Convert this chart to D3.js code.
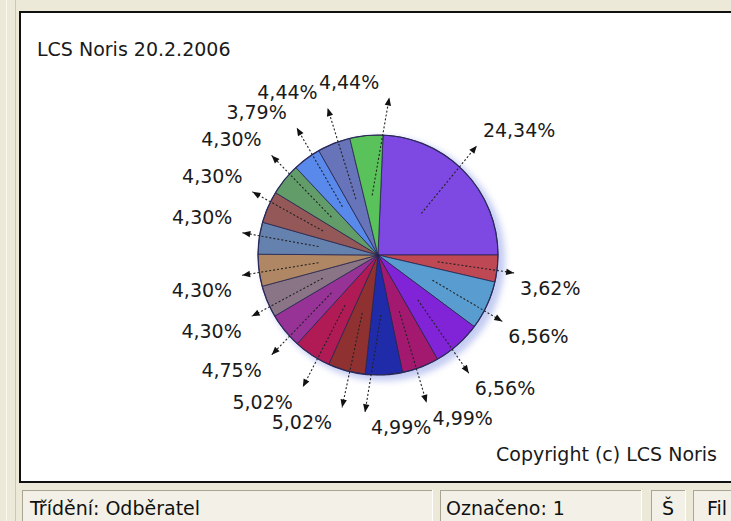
<!DOCTYPE html>
<html><head><meta charset="utf-8">
<script src="https://cdn.jsdelivr.net/npm/d3@7"></script>
<style>
html,body{margin:0;padding:0;background:#ece9d8;overflow:hidden}
svg{display:block;font-family:"DejaVu Sans",Verdana,sans-serif}
</style>
</head><body>
<svg id="c" width="731" height="521"></svg>
<script>
// ---- data ----
const chartTitle = "LCS Noris 20.2.2006";
const copyrightText = "Copyright (c) LCS Noris";
const shares = [24.34, 3.62, 6.56, 6.56, 4.99, 4.99, 5.02, 5.02, 4.75, 4.30, 4.30, 4.30, 4.30, 4.30, 3.79, 4.44, 4.44];
const sliceColors = ["#6220dc", "#b0202e", "#3486c4", "#9028f0", "#b41c7c", "#2430bc", "#a03636", "#c41e60",
                     "#a838a8", "#9a8296", "#c49670", "#7090c2", "#a66262", "#3e8648", "#3470e6", "#4656aa", "#36b436"];
const statusTexts = ["Třídění: Odběratel", "Označeno: 1", "Š", "Fil"];

// ---- layout ----
const W = 731, H = 521;
const cx = 378, cy = 255, R = 120;
const startOffset = 2.4 * Math.PI / 180;
const svg = d3.select("#c");
const defs = svg.append("defs");

svg.append("rect").attr("width", W).attr("height", H).attr("fill", "#ece9d8");
svg.append("line").attr("x1", 6.5).attr("x2", 6.5).attr("y1", 0).attr("y2", H).attr("stroke", "#faf8f0");
svg.append("line").attr("x1", 15.5).attr("x2", 15.5).attr("y1", 0).attr("y2", H).attr("stroke", "#cbc7b3");

// chart panel
svg.append("rect").attr("x", 20).attr("y", 12).attr("width", 730).attr("height", 470)
  .attr("fill", "#ffffff").attr("stroke", "#111").attr("stroke-width", 2);

svg.append("text").attr("x", 37).attr("y", 56).attr("font-size", 19).attr("fill", "#1a1a1a").text(chartTitle);
svg.append("text").attr("x", 717).attr("y", 461).attr("font-size", 19).attr("fill", "#1a1a1a")
  .attr("text-anchor", "end").text(copyrightText);

// status bar
const panels = [[22, 433], [440, 642], [651, 686], [693, 760]];
const statusX = [30, 446, 662, 707];
panels.forEach((p, i) => {
  svg.append("rect").attr("x", p[0]).attr("y", 490).attr("width", p[1] - p[0]).attr("height", 40).attr("fill", "#f3f1e7");
  svg.append("line").attr("x1", p[0]).attr("x2", p[1]).attr("y1", 490.5).attr("y2", 490.5).attr("stroke", "#a9a592");
  svg.append("line").attr("x1", p[0] + 0.5).attr("x2", p[0] + 0.5).attr("y1", 490).attr("y2", H).attr("stroke", "#a9a592");
  svg.append("line").attr("x1", p[1] - 0.5).attr("x2", p[1] - 0.5).attr("y1", 490).attr("y2", H).attr("stroke", "#ffffff");
  svg.append("text").attr("x", statusX[i]).attr("y", 515).attr("font-size", 19).attr("fill", "#111").text(statusTexts[i]);
});

// ---- pie ----
const pie = d3.pie().sort(null).value(d => d).startAngle(startOffset).endAngle(startOffset + 2 * Math.PI);
const arcs = pie(shares);
const arc = d3.arc().innerRadius(0).outerRadius(R);

const blur = defs.append("filter").attr("id", "blur").attr("x", "-20%").attr("y", "-20%").attr("width", "140%").attr("height", "140%");
blur.append("feGaussianBlur").attr("stdDeviation", 3);
svg.append("circle").attr("cx", cx + 5).attr("cy", cy + 4).attr("r", R + 2).attr("fill", "#c4ccf2").attr("filter", "url(#blur)");

arcs.forEach((a, i) => {
  const r0 = R * 0.75;
  const g = defs.append("linearGradient").attr("id", "g" + i).attr("gradientUnits", "userSpaceOnUse")
    .attr("x1", cx + r0 * Math.sin(a.startAngle)).attr("y1", cy - r0 * Math.cos(a.startAngle))
    .attr("x2", cx + r0 * Math.sin(a.endAngle)).attr("y2", cy - r0 * Math.cos(a.endAngle));
  const base = d3.color(sliceColors[i]);
  g.append("stop").attr("offset", 0).attr("stop-color", d3.interpolateRgb(base, "#fff")(0.18));
  g.append("stop").attr("offset", 0.12).attr("stop-color", base.formatHex());
  g.append("stop").attr("offset", 1).attr("stop-color", base.darker(0.3).formatHex());
});

const gp = svg.append("g").attr("transform", `translate(${cx},${cy})`);
gp.selectAll("path.slice").data(arcs).join("path").attr("class", "slice")
  .attr("d", arc).attr("fill", (d, i) => `url(#g${i})`)
  .attr("stroke", "#22224a").attr("stroke-width", 0.9).attr("stroke-opacity", 0.85);
gp.append("circle").attr("r", R).attr("fill", "none").attr("stroke", "#2a2a5a").attr("stroke-width", 1.2);

// ---- labels with leader arrows ----
const fmt = v => d3.format(".2f")(v).replace(".", ",") + "%";
const rxT = 137, ryT = 158;
const labels = arcs.map((a, i) => {
  const mid = (a.startAngle + a.endAngle) / 2;
  return { i, a, mid, ang: mid, text: fmt(shares[i]), left: Math.sin(mid) < 0, up: Math.cos(mid) > 0 };
});
const meas = svg.append("text").attr("font-size", 19).attr("visibility", "hidden");
labels.forEach(l => { meas.text(l.text); l.w = meas.node().getComputedTextLength(); });
meas.remove();

function layout(l) {
  l.tx = cx + rxT * Math.sin(l.ang);
  l.ty = cy - ryT * Math.cos(l.ang);
  l.x1 = l.left ? l.tx - 10 : l.tx + 6 + l.w;
  l.x0 = l.x1 - l.w;
  l.base = l.up ? l.ty - 9 : l.ty + 22;
  l.y0 = l.base - 14; l.y1 = l.base;
}
const overlap = (a, b, pad) => a.x0 < b.x1 + pad && b.x0 < a.x1 + pad && a.y0 < b.y1 + pad && b.y0 < a.y1 + pad;
labels.forEach(layout);
// clockwise sweep: push each label forward until it clears the previous one
const pad = 1, step = 0.003;
for (let k = 1; k < labels.length; k++) {
  const prev = labels[k - 1], cur = labels[k];
  let n = 0;
  while (overlap(prev, cur, pad) && n < 200) { cur.ang += step; layout(cur); n++; }
}

const gl = svg.append("g");
labels.forEach(l => {
  const c = arc.centroid(l.a);
  const sx = cx + c[0], sy = cy + c[1];
  gl.append("line").attr("x1", sx).attr("y1", sy).attr("x2", l.tx).attr("y2", l.ty)
    .attr("stroke", "#222").attr("stroke-width", 1.1).attr("stroke-dasharray", "2,2");
  const ang = Math.atan2(l.ty - sy, l.tx - sx) * 180 / Math.PI;
  gl.append("path").attr("d", "M0,0L-8,-3.2L-8,3.2Z").attr("fill", "#111")
    .attr("transform", `translate(${l.tx},${l.ty}) rotate(${ang})`);
  gl.append("text").attr("x", l.left ? l.x1 : l.x0).attr("y", l.base)
    .attr("text-anchor", l.left ? "end" : "start").attr("font-size", 19).attr("fill", "#1a1a1a").text(l.text);
});
</script>
</body></html>
